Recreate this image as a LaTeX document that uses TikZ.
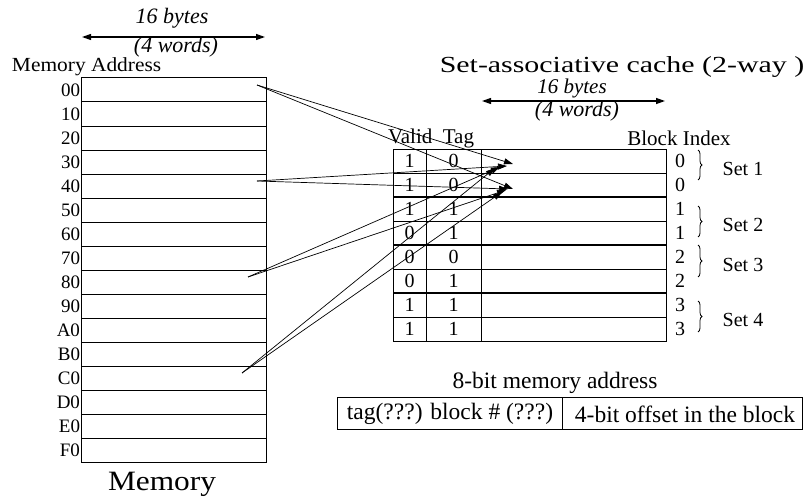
\documentclass[tikz,border=0pt]{standalone}
\usepackage{fontspec}
\setmainfont{Liberation Serif}
\usetikzlibrary{arrows.meta,decorations.pathreplacing}

\begin{document}
\begin{tikzpicture}[x=1pt,y=-1pt,
  fs/.style={font=\fontsize{#1}{#1}\selectfont},
  it/.style={font=\fontsize{#1}{#1}\selectfont\itshape},
  txt/.style={inner sep=0pt, outer sep=0pt},
  grid/.style={line width=1pt},
  width arrow/.style={line width=1.2pt, {Triangle[length=9pt,width=6pt]}-{Triangle[length=9pt,width=6pt]}},
  map/.style={line width=0.7pt, -{Triangle[length=9pt,width=6pt]}},
  setbrace/.style={decorate, decoration={brace, amplitude=4pt}, line width=0.8pt}]
\useasboundingbox (0,0) rectangle (810,500);

% ---------- main memory: 16 blocks of 16 bytes ----------
\draw[grid] (81,78) rectangle (266,462);
\foreach \i in {1,...,15} \draw[grid] (81,78+24*\i) -- (266,78+24*\i);
\foreach \lab [count=\i from 0] in {00,10,20,30,40,50,60,70,80,90,A0,B0,C0,D0,E0,F0}
  \node[txt, fs=19, anchor=east] (addr\i) at (80,90+24*\i) {\lab};
\node[txt, fs=20, anchor=west] (memaddr) at (12,67) {\scalebox{1.07}[1]{Memory Address}};
\node[txt, fs=28] (memlabel) at (162,484) {\scalebox{1.12}[1]{Memory}};

% block width arrow above memory
\coordinate (mwl) at (82,37);
\coordinate (mwr) at (265,37);
\draw[width arrow] (mwl) -- (mwr);
\node[txt, it=22] (mbytes) at (172,18) {16 bytes};
\node[txt, it=22] (mwords) at (176,47) {(4 words)};

% ---------- set-associative cache ----------
\node[txt, fs=23] (title) at (622,67) {\scalebox{1.3}[1]{Set-associative cache (2-way )}};
\coordinate (cwl) at (482,101);
\coordinate (cwr) at (665,101);
\draw[width arrow] (cwl) -- (cwr);
\node[txt, it=21] (cbytes) at (572,88.5) {16 bytes};
\node[txt, it=22] (cwords) at (577,111) {(4 words)};

\node[txt, fs=21, anchor=west] (vt) at (388,138) {Valid\ \ Tag};
\node[txt, fs=21] (bi) at (679,138) {Block Index};

\draw[grid] (393,149) rectangle (666,341);
\foreach \i in {1,...,7} \draw[grid] (393,149+24*\i) -- (666,149+24*\i);
\foreach \i in {2,4,6} \draw[line width=1.4pt] (393,149+24*\i) -- (666,149+24*\i);
\draw[grid] (426,149) -- (426,341);
\draw[grid] (481,149) -- (481,341);

\foreach \v [count=\i from 0] in {1,1,1,0,0,0,1,1}
  \node[txt, fs=20] (valid\i) at (409.5,161+24*\i) {\v};
\foreach \t [count=\i from 0] in {0,0,1,1,0,1,1,1}
  \node[txt, fs=20] (tag\i) at (453.5,161+24*\i) {\t};
\foreach \b [count=\i from 0] in {0,0,1,1,2,2,3,3}
  \node[txt, fs=20] (idx\i) at (680,161+24*\i) {\b};

% sets of two ways
\draw[setbrace] (698,150) -- (698,180);
\draw[setbrace] (698,206) -- (698,237);
\draw[setbrace] (698,245) -- (698,277);
\draw[setbrace] (698,301) -- (698,332);
\node[txt, fs=20] (set1) at (743,169) {Set 1};
\node[txt, fs=20] (set2) at (743,225) {Set 2};
\node[txt, fs=20] (set3) at (743,265) {Set 3};
\node[txt, fs=20] (set4) at (743,320) {Set 4};

% ---------- blocks 00, 40, 80, C0 all map to set 1 ----------
\coordinate (s00) at (257,85);
\coordinate (s40) at (257,181);
\coordinate (s80) at (248,277);
\coordinate (sC0) at (242,373);
\coordinate (w0a) at (513,164);
\coordinate (w1a) at (513,189);
\coordinate (w0b) at (507,166);
\coordinate (w1b) at (508,189);
\coordinate (w0c) at (500,167);
\coordinate (w1c) at (506,190);
\coordinate (w0d) at (495,168);
\coordinate (w1d) at (502,192);
\draw[map] (s00) -- (w0a);
\draw[map] (s00) -- (w1a);
\draw[map] (s40) -- (w0b);
\draw[map] (s40) -- (w1b);
\draw[map] (s80) -- (w0c);
\draw[map] (s80) -- (w1c);
\draw[map] (sC0) -- (w0d);
\draw[map] (sC0) -- (w1d);

% ---------- address format ----------
\node[txt, fs=23.5] (fmt) at (555,383) {8-bit memory address};
\draw[grid] (337,397) rectangle (802,429);
\draw[grid] (562,397) -- (562,429);
\node[txt, fs=23.5] (tagblk) at (450,414) {tag(???) block \# (???)};
\node[txt, fs=23.5] (offs) at (685,414) {4-bit offset in the block};
\end{tikzpicture}
\end{document}
